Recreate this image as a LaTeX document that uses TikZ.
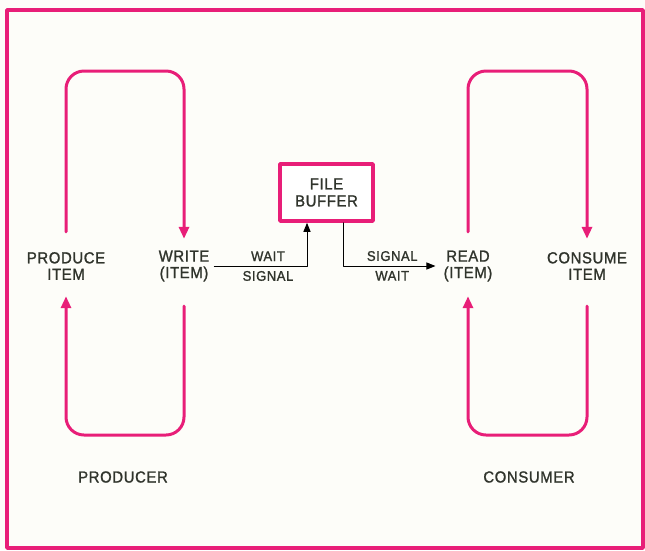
\documentclass[tikz,border=0pt]{standalone}
\usepackage{fontspec}
\setmainfont{Liberation Sans}
\newfontfamily\diafont{Liberation Sans}[FakeBold=1.3, FakeStretch=0.93, LetterSpace=4]
\usepackage{xcolor}
\usetikzlibrary{arrows.meta,calc}

\definecolor{loopPink}{RGB}{232,30,120}
\definecolor{inkText}{RGB}{48,52,44}
\definecolor{paper}{RGB}{253,253,249}

\begin{document}
\begin{tikzpicture}[
  x=1pt, y=-1pt,
  line cap=round,
  line join=round,
  every node/.style={text=inkText},
  lbl/.style={font=\diafont\fontsize{16}{16.5}\selectfont, align=center,
    inner sep=0pt, minimum height=34pt},
  smalllbl/.style={font=\diafont\fontsize{14}{14}\selectfont, inner sep=4.5pt},
  loopline/.style={draw=loopPink, line width=3pt, rounded corners=18pt,
    -{Triangle[length=12pt,width=10pt]}},
  sigline/.style={draw=black, line width=1pt,
    -{Triangle[length=9pt,width=7pt]}},
  bufferbox/.style={draw=loopPink, line width=3.5pt, fill=white,
    minimum width=93pt, minimum height=57pt, align=center, inner sep=0pt,
    font=\diafont\fontsize{16}{17}\selectfont}
]
  % page and outer frame
  \useasboundingbox (0,0) rectangle (645,550);
  \fill[paper] (0,0) rectangle (645,550);
  \draw[loopPink, line width=3.5pt, line cap=butt] (7,10) rectangle (643,548);

  % levels of the loop tops and bottoms
  \coordinate (ltop) at (0,71);
  \coordinate (lbot) at (0,435);

  % Process steps
  \node[lbl] (produce) at (66,266)  {PRODUCE\\ITEM};
  \node[lbl] (write)   at (184,266) {WRITE\\(ITEM)};
  \node[lbl] (read)    at (468,266) {READ\\(ITEM)};
  \node[lbl] (consume) at (587,266) {CONSUME\\ITEM};

  \node[bufferbox] (buffer) at (326.5,192.5) {FILE\\BUFFER};

  % Producer loop
  \draw[loopline, shorten <=17pt, shorten >=10pt]
    (produce.north) -- (produce.north |- ltop) -- (write.north |- ltop) -- (write.north);
  \draw[loopline, shorten <=23pt, shorten >=13pt]
    (write.south) -- (write.south |- lbot) -- (produce.south |- lbot) -- (produce.south);

  % Consumer loop
  \draw[loopline, shorten <=17pt, shorten >=10pt]
    (read.north) -- (read.north |- ltop) -- (consume.north |- ltop) -- (consume.north);
  \draw[loopline, shorten <=23pt, shorten >=13pt]
    (consume.south) -- (consume.south |- lbot) -- (read.south |- lbot) -- (read.south);

  % Buffer access
  \draw[sigline, shorten <=5pt] (write.east) -| ([xshift=-19.5pt]buffer.south)
    node[smalllbl, above, pos=0.3] {WAIT}
    node[smalllbl, below, pos=0.3] {SIGNAL};
  \draw[sigline, shorten >=8pt] ([xshift=16.5pt]buffer.south) |- (read.west)
    node[smalllbl, above, pos=0.745] {SIGNAL}
    node[smalllbl, below, pos=0.745] {WAIT};

  % Labels
  \node[lbl] (producer) at (123,477) {PRODUCER};
  \node[lbl] (consumer) at (529,477) {CONSUMER};
\end{tikzpicture}
\end{document}
